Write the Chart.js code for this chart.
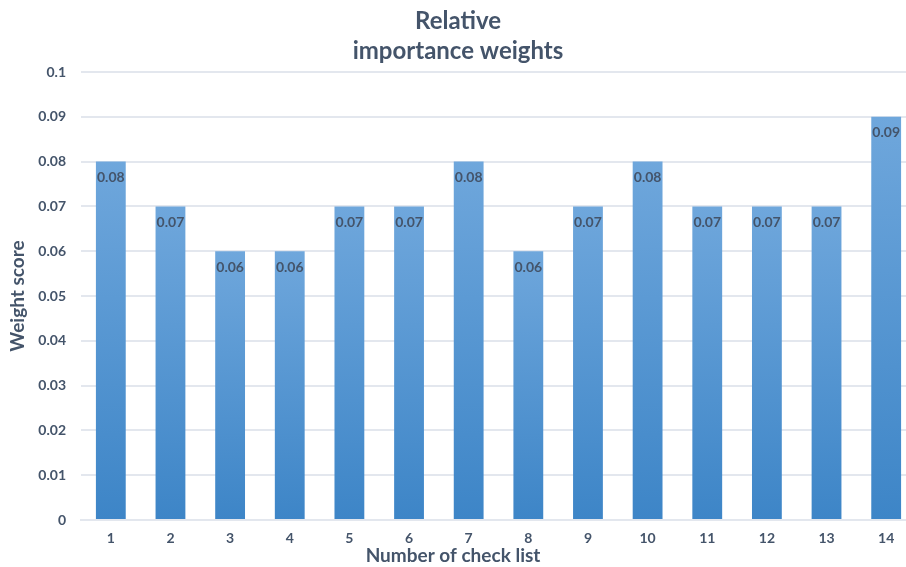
<!DOCTYPE html>
<html>
<head>
<meta charset="utf-8">
<script src="https://cdn.jsdelivr.net/npm/chart.js@4/dist/chart.umd.min.js"></script>
<style>
  html, body { margin: 0; padding: 0; background: #fff; overflow: hidden; }
  #wrap { width: 926px; height: 567px; }
</style>
</head>
<body>
<div id="wrap"><canvas id="weights" width="926" height="567"></canvas></div>
<script>
const checkList = ['1', '2', '3', '4', '5', '6', '7', '8', '9', '10', '11', '12', '13', '14'];
const weightScore = [0.08, 0.07, 0.06, 0.06, 0.07, 0.07, 0.08, 0.06, 0.07, 0.08, 0.07, 0.07, 0.07, 0.09];
const yTicks = [0, 0.01, 0.02, 0.03, 0.04, 0.05, 0.06, 0.07, 0.08, 0.09, 0.1];
const xTitle = 'Number of check list';

const ink = '#44546a';
const fontFamily = 'Lato, "Open Sans", sans-serif';

// each bar gets its own light-top / dark-bottom fill
const barFill = (ctx) => {
  const chart = ctx.chart;
  if (!chart.chartArea || ctx.dataIndex === undefined) return '#5b9bd5';
  const y = chart.scales.y;
  const top = y.getPixelForValue(ctx.raw);
  const base = y.getPixelForValue(0);
  const g = chart.ctx.createLinearGradient(0, top, 0, base);
  g.addColorStop(0, '#6fa7dc');
  g.addColorStop(1, '#3d85c7');
  return g;
};

// value written just inside the top of each bar, plus the x axis title
// (the original chart has it a bit left of the plot centre)
const barValues = {
  id: 'barValues',
  afterDatasetsDraw(chart) {
    const c = chart.ctx;
    const meta = chart.getDatasetMeta(0);
    c.save();
    c.font = 'bold 14px ' + fontFamily;
    c.fillStyle = ink;
    c.textAlign = 'center';
    c.textBaseline = 'middle';
    meta.data.forEach((bar, i) => {
      c.fillText(weightScore[i].toFixed(2), bar.x, bar.y + 16);
    });
    c.font = 'bold 19px ' + fontFamily;
    c.fillText(xTitle, 453, 556);
    c.restore();
  }
};

new Chart(document.getElementById('weights'), {
  type: 'bar',
  data: {
    labels: checkList,
    datasets: [{
      label: 'Weight score',
      data: weightScore,
      backgroundColor: barFill,
      borderWidth: 0,
      barPercentage: 0.5,
      categoryPercentage: 1
    }]
  },
  options: {
    responsive: false,
    animation: false,
    devicePixelRatio: 1,
    layout: { padding: { left: 0, right: 10, top: 0, bottom: 0 } },
    plugins: {
      legend: { display: false },
      tooltip: { enabled: false },
      title: {
        display: true,
        text: ['Relative', 'importance weights'],
        color: ink,
        font: { family: fontFamily, size: 24, weight: 'bold', lineHeight: 1.25 },
        padding: { top: 6, bottom: 6 }
      }
    },
    scales: {
      x: {
        grid: { display: false, drawTicks: false },
        border: { color: '#e3e7ee', width: 2 },
        ticks: { color: ink, font: { family: fontFamily, size: 14, weight: 'bold' }, padding: 10 },
        afterFit: (s) => { s.height = 47; }
      },
      y: {
        min: 0,
        max: 0.1,
        afterBuildTicks: (s) => { s.ticks = yTicks.map(v => ({ value: v })); },
        grid: { color: '#e3e7ee', lineWidth: 2, drawTicks: false },
        border: { display: false },
        ticks: {
          color: ink,
          font: { family: fontFamily, size: 14, weight: 'bold' },
          padding: 15,
          callback: (v) => String(Number(v.toFixed(2)))
        },
        title: {
          display: true,
          text: 'Weight score',
          color: ink,
          font: { family: fontFamily, size: 19, weight: 'bold' },
          padding: { top: 6, bottom: 0 }
        },
        afterFit: (s) => { s.width = 81; }
      }
    }
  },
  plugins: [barValues]
});
</script>
</body>
</html>
